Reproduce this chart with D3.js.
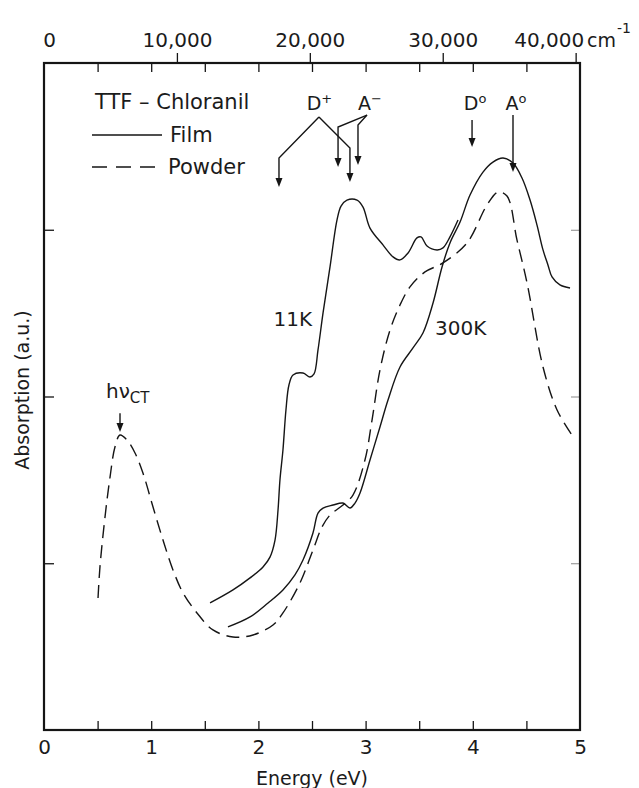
<!DOCTYPE html>
<html>
<head>
<meta charset="utf-8">
<script src="https://cdn.jsdelivr.net/npm/d3@7"></script>
<style>
  body { margin: 0; background: #fff; }
  svg text { font-family: "DejaVu Sans", sans-serif; fill: #1b1b1b; }
</style>
</head>
<body>
<svg id="chart" width="639" height="788"></svg>
<script>
// Axis tick values
const energyTicks = [0, 1, 2, 3, 4, 5];
const energyMinorTicks = [0.5, 1, 1.5, 2, 2.5, 3, 3.5, 4, 4.5];
const wavenumberTicks = [0, 10000, 20000, 30000, 40000];
const wavenumberLabels = ["0", "10,000", "20,000", "30,000", "40,000"];
const absorptionTicks = [1, 2, 3];
const EV_TO_CM = 8065.54;

// Powder spectrum [energy eV, absorption a.u.]
const powder = [
  [0.504, 0.792], [0.522, 0.978], [0.569, 1.277], [0.616, 1.517], [0.662, 1.697],
  [0.709, 1.769], [0.774, 1.739], [0.849, 1.661], [0.923, 1.541], [1.017, 1.337],
  [1.110, 1.139], [1.203, 0.960], [1.297, 0.822], [1.427, 0.702], [1.576, 0.600],
  [1.763, 0.558], [1.950, 0.570], [2.136, 0.630], [2.229, 0.702], [2.388, 0.882],
  [2.509, 1.079], [2.593, 1.217], [2.668, 1.289], [2.789, 1.349], [2.882, 1.409],
  [2.994, 1.619], [3.060, 1.859], [3.134, 2.159], [3.228, 2.399], [3.321, 2.549],
  [3.414, 2.657], [3.554, 2.747], [3.722, 2.801], [3.946, 2.921], [4.132, 3.148],
  [4.235, 3.226], [4.319, 3.202], [4.412, 2.939], [4.506, 2.681], [4.655, 2.177],
  [4.786, 1.919], [4.925, 1.769]
];

// Film at 11 K
const film11K = [
  [1.549, 0.762], [1.763, 0.840], [1.922, 0.912], [2.043, 0.978], [2.108, 1.037],
  [2.155, 1.139], [2.183, 1.319], [2.201, 1.499], [2.229, 1.679], [2.257, 1.919],
  [2.285, 2.069], [2.323, 2.129], [2.416, 2.141], [2.481, 2.117], [2.519, 2.135],
  [2.556, 2.279], [2.603, 2.501], [2.668, 2.777], [2.733, 3.058], [2.771, 3.142],
  [2.826, 3.178], [2.920, 3.178], [2.976, 3.136], [3.041, 3.010], [3.162, 2.909],
  [3.256, 2.837], [3.321, 2.819], [3.396, 2.861], [3.479, 2.951], [3.517, 2.957],
  [3.573, 2.903], [3.666, 2.879], [3.722, 2.891], [3.787, 2.957], [3.862, 3.058]
];

// Film at 300 K
const film300K = [
  [1.716, 0.618], [1.922, 0.678], [2.090, 0.762], [2.229, 0.840], [2.341, 0.930],
  [2.416, 1.019], [2.509, 1.181], [2.556, 1.301], [2.603, 1.331], [2.696, 1.349],
  [2.789, 1.361], [2.854, 1.331], [2.901, 1.361], [2.948, 1.421], [3.041, 1.619],
  [3.134, 1.817], [3.209, 1.979], [3.321, 2.177], [3.442, 2.291], [3.535, 2.381],
  [3.629, 2.561], [3.713, 2.777], [3.787, 2.921], [3.881, 3.046], [3.974, 3.208],
  [4.095, 3.346], [4.188, 3.406], [4.282, 3.430], [4.375, 3.400], [4.459, 3.310],
  [4.534, 3.178], [4.599, 3.028], [4.655, 2.879], [4.701, 2.789], [4.739, 2.717],
  [4.813, 2.669], [4.907, 2.651]
];

// Transition markers: label, apex and the arrows hanging from it
const bracketMarkers = [
  { label: "D", sup: "+", labelAt: [2.57, 3.72], apex: [2.565, 3.676],
    legs: [ { corner: [2.192, 3.430], tip: 3.256 }, { corner: [2.854, 3.490], tip: 3.286 } ] },
  { label: "A", sup: "\u2212", labelAt: [3.04, 3.72], apex: [3.013, 3.688],
    legs: [ { corner: [2.743, 3.616], tip: 3.376 }, { corner: [2.929, 3.628], tip: 3.388 } ] }
];
const singleMarkers = [
  { label: "D", sup: "o", energy: 3.993, from: 3.658, to: 3.496 },
  { label: "A", sup: "o", energy: 4.375, from: 3.688, to: 3.346 }
];
const ctMarker = { energy: 0.709, from: 1.90, to: 1.787 };

const svg = d3.select("#chart");
const L = 44, R = 580, T = 63, B = 730;

const x = d3.scaleLinear().domain([0, 5]).range([L, R]);
const xw = d3.scaleLinear().domain([0, 5 * EV_TO_CM]).range([L, R]);
const y = d3.scaleLinear().domain([0, 4]).range([B, T]);

const INK = "#151515";

function cleanAxis(g) {
  g.select(".domain").remove();
  g.selectAll(".tick line").attr("stroke", INK).attr("stroke-width", 1.3);
  g.selectAll("text").attr("font-size", 20).attr("fill", "#1b1b1b").attr("font-family", "DejaVu Sans, sans-serif");
}

// Bottom energy axis: labels and inward ticks
svg.append("g").attr("transform", `translate(0,${B})`)
  .call(d3.axisBottom(x).tickValues(energyTicks).tickSize(0).tickPadding(10).tickFormat(d3.format("d")))
  .call(cleanAxis);
svg.append("g").attr("transform", `translate(0,${B})`)
  .call(d3.axisTop(x).tickValues(energyMinorTicks).tickSize(9).tickFormat(""))
  .call(cleanAxis);

// Top axis: inward energy ticks and outward wavenumber ticks with labels
svg.append("g").attr("transform", `translate(0,${T})`)
  .call(d3.axisBottom(x).tickValues(energyMinorTicks).tickSize(9).tickFormat(""))
  .call(cleanAxis);
const topAxis = svg.append("g").attr("transform", `translate(0,${T})`)
  .call(d3.axisTop(xw).tickValues(wavenumberTicks).tickSize(10).tickPadding(6)
    .tickFormat((d, i) => wavenumberLabels[i]))
  .call(cleanAxis);
topAxis.selectAll(".tick").filter(d => d === 0).select("line").remove();
topAxis.selectAll(".tick").filter(d => d === 0).select("text").attr("x", 5);
topAxis.selectAll(".tick").filter(d => d === 40000).select("text").attr("x", -27);

// Unit of the wavenumber scale
const unit = svg.append("text").attr("x", 587).attr("y", T - 16).attr("font-size", 19);
unit.append("tspan").text("cm");
unit.append("tspan").attr("font-size", 14).attr("dy", -14).attr("dx", 1).text("-1");

// Left and right inward ticks
svg.append("g").attr("transform", `translate(${L},0)`)
  .call(d3.axisRight(y).tickValues(absorptionTicks).tickSize(10).tickFormat(""))
  .call(cleanAxis);
svg.append("g").attr("transform", `translate(${R},0)`)
  .call(d3.axisLeft(y).tickValues(absorptionTicks).tickSize(9).tickFormat(""))
  .call(g => { cleanAxis(g); g.selectAll(".tick line").attr("stroke", "#888").attr("stroke-width", 1); });

// Frame
svg.append("rect").attr("x", L).attr("y", T).attr("width", R - L).attr("height", B - T)
  .attr("fill", "none").attr("stroke", INK).attr("stroke-width", 2.2);

// Axis titles
svg.append("text").attr("x", (L + R) / 2).attr("y", 785).attr("text-anchor", "middle")
  .attr("font-size", 19).text("Energy (eV)");
svg.append("text").attr("transform", `translate(29,${390}) rotate(-90)`).attr("text-anchor", "middle")
  .attr("font-size", 19).text("Absorption (a.u.)");

// Spectra
const line = d3.line().x(d => x(d[0])).y(d => y(d[1])).curve(d3.curveCatmullRom.alpha(0.5));
const plot = svg.append("g").attr("fill", "none").attr("stroke", INK).attr("stroke-width", 1.4);
plot.append("path").datum(powder).attr("d", line).attr("stroke-dasharray", "13,7");
plot.append("path").datum(film11K).attr("d", line);
plot.append("path").datum(film300K).attr("d", line);

// Curve labels
svg.append("text").attr("x", x(2.141)).attr("y", y(2.42)).attr("font-size", 20).text("11K");
svg.append("text").attr("x", x(3.647)).attr("y", y(2.37)).attr("font-size", 20).text("300K");

// Legend
const legend = svg.append("g");
legend.append("text").attr("x", 95).attr("y", 109).attr("font-size", 21).text("TTF \u2013 Chloranil");
legend.append("line").attr("x1", 92).attr("x2", 162).attr("y1", 135).attr("y2", 135)
  .attr("stroke", INK).attr("stroke-width", 1.4);
legend.append("text").attr("x", 170).attr("y", 142).attr("font-size", 21).text("Film");
legend.append("line").attr("x1", 92).attr("x2", 162).attr("y1", 167).attr("y2", 167)
  .attr("stroke", INK).attr("stroke-width", 1.4).attr("stroke-dasharray", "15,9");
legend.append("text").attr("x", 168).attr("y", 174).attr("font-size", 21).text("Powder");

// Arrow helpers
const ann = svg.append("g");
function arrowHead(px, py) {
  ann.append("path")
    .attr("d", `M${px},${py} L${px - 3.5},${py - 9} L${px + 3.5},${py - 9} Z`)
    .attr("fill", INK);
}
function markerLabel(px, py, base, sup) {
  const t = ann.append("text").attr("x", px).attr("y", py).attr("text-anchor", "middle").attr("font-size", 19);
  t.append("tspan").text(base);
  t.append("tspan").attr("font-size", 13).attr("dy", -7).text(sup);
}

bracketMarkers.forEach(m => {
  markerLabel(x(m.labelAt[0]), y(m.labelAt[1]), m.label, m.sup);
  m.legs.forEach(leg => {
    ann.append("path")
      .attr("d", `M${x(m.apex[0])},${y(m.apex[1])} L${x(leg.corner[0])},${y(leg.corner[1])} L${x(leg.corner[0])},${y(leg.tip) - 6}`)
      .attr("fill", "none").attr("stroke", INK).attr("stroke-width", 1.4);
    arrowHead(x(leg.corner[0]), y(leg.tip));
  });
});

singleMarkers.forEach(m => {
  markerLabel(x(m.energy) + 3, y(3.72), m.label, m.sup);
  ann.append("line").attr("x1", x(m.energy)).attr("x2", x(m.energy))
    .attr("y1", y(m.from)).attr("y2", y(m.to) - 6)
    .attr("stroke", INK).attr("stroke-width", 1.4);
  arrowHead(x(m.energy), y(m.to));
});

// Charge-transfer band marker
ann.append("line").attr("x1", x(ctMarker.energy)).attr("x2", x(ctMarker.energy))
  .attr("y1", y(ctMarker.from)).attr("y2", y(ctMarker.to) - 6)
  .attr("stroke", INK).attr("stroke-width", 1.4);
arrowHead(x(ctMarker.energy), y(ctMarker.to));
const ct = ann.append("text").attr("x", 106).attr("y", 398).attr("font-size", 20);
ct.append("tspan").text("h\u03bd");
ct.append("tspan").attr("font-size", 15).attr("dy", 5).text("CT");
</script>
</body>
</html>
